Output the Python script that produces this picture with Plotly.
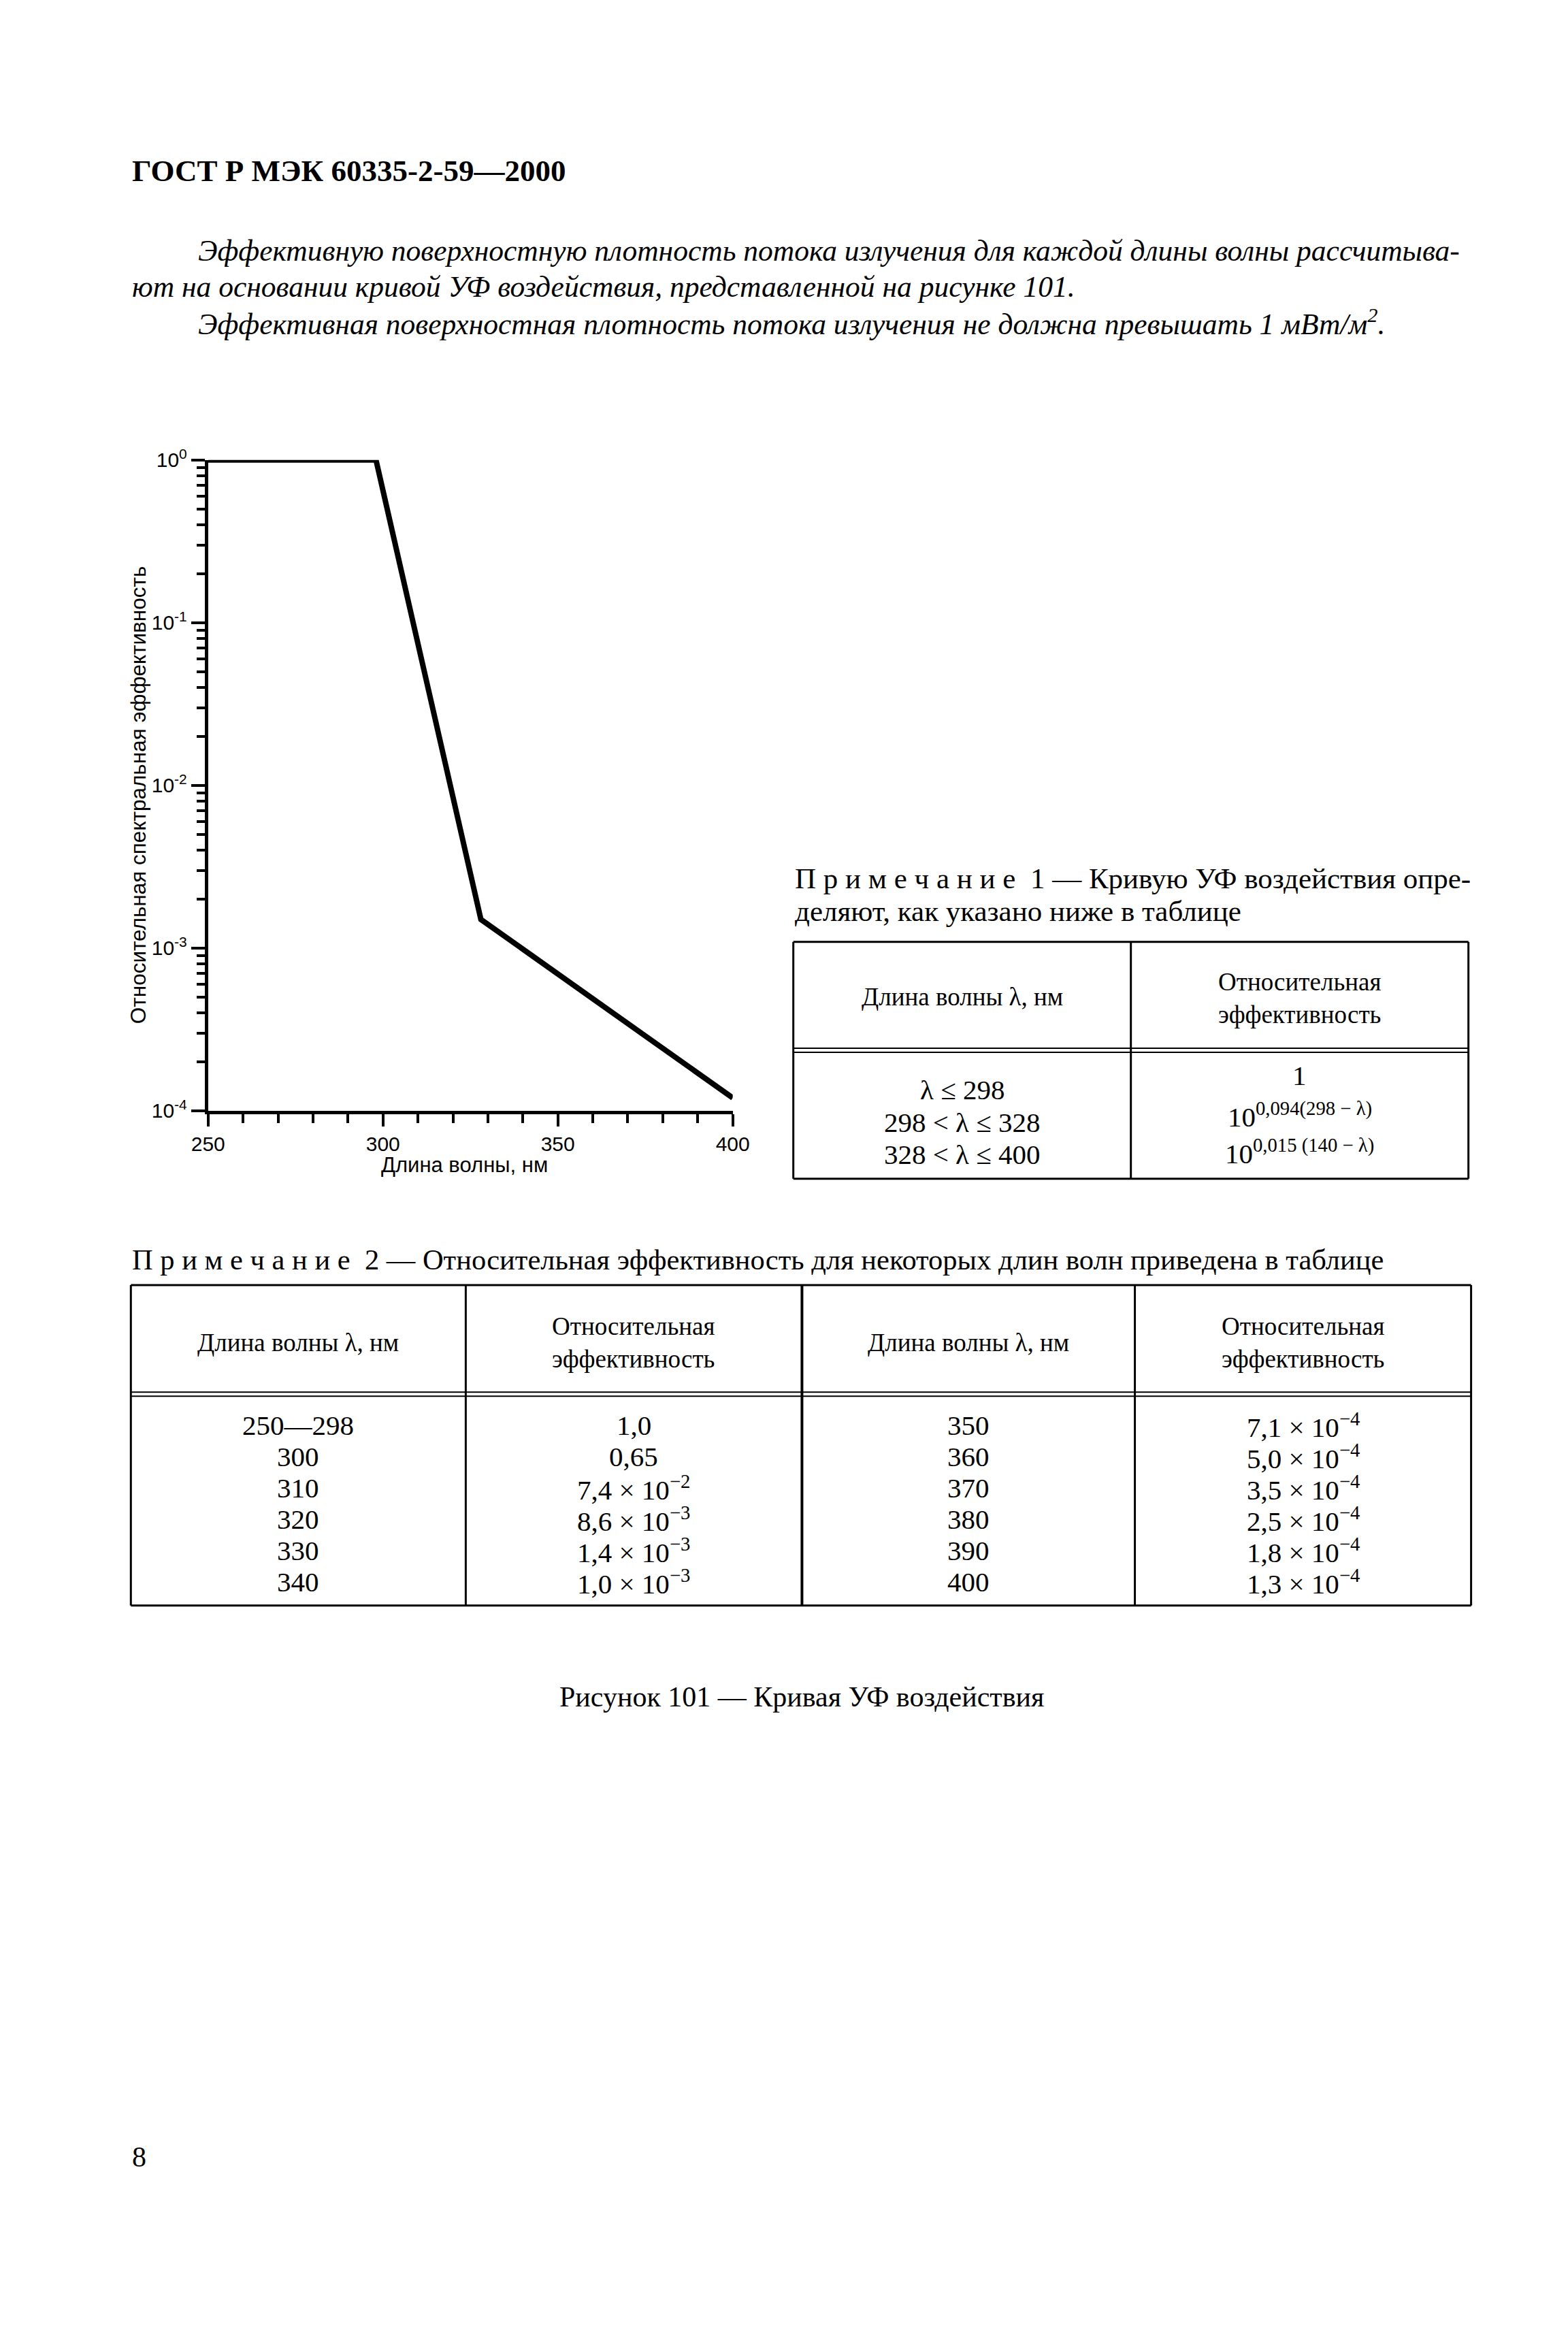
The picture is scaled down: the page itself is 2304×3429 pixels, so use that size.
import plotly.graph_objects as go

W, H = 2304, 3429

# ---------------- data ----------------
wavelength_nm = [250, 298, 328, 400]
rel_eff = [1.0, 1.0, 1.5e-3, 1.2e-4]

x_tick_vals = [250, 300, 350, 400]
x_tick_text = ["250", "300", "350", "400"]
y_tick_vals = [1e-4, 1e-3, 1e-2, 1e-1, 1]
y_tick_text = ["10<sup>-4</sup>", "10<sup>-3</sup>", "10<sup>-2</sup>", "10<sup>-1</sup>", "10<sup>0</sup>"]

header_text = "ГОСТ Р МЭК 60335-2-59—2000"
para_lines = [
    "Эффективную поверхностную плотность потока излучения для каждой длины волны рассчитыва-",
    "ют на основании кривой УФ воздействия, представленной на рисунке 101.",
    "Эффективная поверхностная плотность потока излучения не должна превышать 1 мВт/м<sup>2</sup>.",
]
note1_lines = [
    "П р и м е ч а н и е  1 — Кривую УФ воздействия опре-",
    "деляют, как указано ниже в таблице",
]
t1_header = ["Длина волны λ, нм", "Относительная<br>эффективность"]
t1_ranges = ["λ ≤ 298", "298 < λ ≤ 328", "328 < λ ≤ 400"]
t1_formulas = ["1", "10<sup>0,094(298 − λ)</sup>", "10<sup>0,015 (140 − λ)</sup>"]

note2_text = "П р и м е ч а н и е  2 — Относительная эффективность для некоторых длин волн приведена в таблице"
t2_header = ["Длина волны λ, нм", "Относительная<br>эффективность",
             "Длина волны λ, нм", "Относительная<br>эффективность"]
t2_wl_left = ["250—298", "300", "310", "320", "330", "340"]
t2_eff_left = ["1,0", "0,65", "7,4 × 10<sup>−2</sup>", "8,6 × 10<sup>−3</sup>",
               "1,4 × 10<sup>−3</sup>", "1,0 × 10<sup>−3</sup>"]
t2_wl_right = ["350", "360", "370", "380", "390", "400"]
t2_eff_right = ["7,1 × 10<sup>−4</sup>", "5,0 × 10<sup>−4</sup>", "3,5 × 10<sup>−4</sup>",
                "2,5 × 10<sup>−4</sup>", "1,8 × 10<sup>−4</sup>", "1,3 × 10<sup>−4</sup>"]
caption_text = "Рисунок 101 — Кривая УФ воздействия"
page_number = "8"

x_title = "Длина волны, нм"
y_title = "Относительная спектральная эффективность"

# ---------------- helpers ----------------
def PX(x):
    return x / W

def PY(y):
    return 1 - y / H

SERIF = "Liberation Serif, Times New Roman, serif"
SANS = "Liberation Sans, Arial, sans-serif"

annotations = []
shapes = []

def text(x, y, s, size, family=SERIF, xanchor="left", yanchor="middle", angle=0, align="left"):
    annotations.append(dict(
        x=PX(x), y=PY(y), xref="paper", yref="paper", text=s, showarrow=False,
        xanchor=xanchor, yanchor=yanchor, textangle=angle, align=align,
        font=dict(family=family, size=size, color="black")))

def hline(x0, x1, y, w=3):
    shapes.append(dict(type="line", xref="paper", yref="paper",
                       x0=PX(x0), x1=PX(x1), y0=PY(y), y1=PY(y),
                       line=dict(color="black", width=w)))

def vline(x, y0, y1, w=3):
    shapes.append(dict(type="line", xref="paper", yref="paper",
                       x0=PX(x), x1=PX(x), y0=PY(y0), y1=PY(y1),
                       line=dict(color="black", width=w)))

# ---------------- chart ----------------
X0, X1 = 287, 1075
Y0, Y1 = 662, 1629

minor_y = [m * 10 ** e for e in range(-4, 0) for m in range(2, 10)]

fig = go.Figure()
fig.add_trace(go.Scatter(
    x=wavelength_nm, y=rel_eff, mode="lines",
    line=dict(color="black", width=8), cliponaxis=False, showlegend=False))

fig.update_layout(
    width=W, height=H, margin=dict(l=0, r=0, t=0, b=0),
    paper_bgcolor="white", plot_bgcolor="white", showlegend=False,
    xaxis=dict(
        domain=[PX(X0), PX(X1)], range=[250, 400],
        tickmode="array", tickvals=x_tick_vals, ticktext=x_tick_text,
        ticks="outside", ticklen=18, tickwidth=4, tickcolor="black",
        showline=True, linecolor="black", linewidth=5, mirror=False,
        showgrid=False, zeroline=False,
        tickfont=dict(family=SANS, size=30, color="black"),
        minor=dict(tickmode="linear", tick0=250, dtick=10, ticks="outside",
                   ticklen=13, tickwidth=4, tickcolor="black", showgrid=False),
    ),
    yaxis=dict(
        domain=[PY(Y1), PY(Y0)], type="log", range=[-4, 0],
        tickmode="array", tickvals=y_tick_vals, ticktext=y_tick_text,
        ticks="outside", ticklen=20, tickwidth=4, tickcolor="black",
        showline=True, linecolor="black", linewidth=5, mirror=False,
        showgrid=False, zeroline=False,
        tickfont=dict(family=SANS, size=30, color="black"),
        minor=dict(tickmode="array", tickvals=minor_y, ticks="outside",
                   ticklen=12, tickwidth=4, tickcolor="black", showgrid=False),
    ),
)

text(672, 1709, x_title, 31, family=SANS, xanchor="center")
text(182, 1160, y_title, 31.5, family=SANS, xanchor="center", angle=-90)

# ---------------- page text ----------------
text(171, 233, "<b>" + header_text + "</b>", 45)
text(270, 351, "<i>" + para_lines[0] + "</i>", 43.5)
text(171, 404, "<i>" + para_lines[1] + "</i>", 43.5)
text(270, 457, "<i>" + para_lines[2] + "</i>", 43.5)

text(1166, 1284, note1_lines[0], 43)
text(1166, 1332, note1_lines[1], 43)

# table 1
T1L, T1R, T1M, T1T, T1B = 1166, 2180, 1673, 1378, 1730
hline(T1L, T1R, T1T)
hline(T1L, T1R, T1B)
hline(T1L, T1R, 1536, 2)
hline(T1L, T1R, 1542, 2)
vline(T1L, T1T, T1B)
vline(T1R, T1T, T1B)
vline(T1M, T1T, T1B)
text((T1L + T1M) / 2, 1460, t1_header[0], 37, xanchor="center", align="center")
text((T1M + T1R) / 2, 1462, t1_header[1], 37, xanchor="center", align="center")
for i, s in enumerate(t1_ranges):
    text((T1L + T1M) / 2, 1598 + 48 * i, s, 41, xanchor="center")
t1_y = [1576, 1635, 1690]
for i, s in enumerate(t1_formulas):
    text((T1M + T1R) / 2, t1_y[i], s, 41, xanchor="center")

# note 2 + table 2
text(171, 1850, note2_text, 42.5)
T2L, T2R, T2T, T2B = 171, 2184, 1888, 2364
T2C = [171, 674, 1179, 1679, 2184]
hline(T2L, T2R, T2T)
hline(T2L, T2R, T2B)
hline(T2L, T2R, 2047, 2)
hline(T2L, T2R, 2053, 2)
for i, cx in enumerate(T2C):
    vline(cx, T2T, T2B, 4 if i == 2 else 3)
cols = [(T2C[i] + T2C[i + 1]) / 2 for i in range(4)]
for i, s in enumerate(t2_header):
    text(cols[i], 1973, s, 37, xanchor="center", align="center")
for j, col in enumerate([t2_wl_left, t2_eff_left, t2_wl_right, t2_eff_right]):
    for i, s in enumerate(col):
        text(cols[j], 2096 + 46.6 * i, s, 41, xanchor="center")

text(1179, 2500, caption_text, 42, xanchor="center")
text(171, 3183, page_number, 42)

fig.update_layout(annotations=annotations, shapes=shapes)
fig.write_html("out.html", config={"displayModeBar": False},
               post_script="document.body.style.margin='0';")
